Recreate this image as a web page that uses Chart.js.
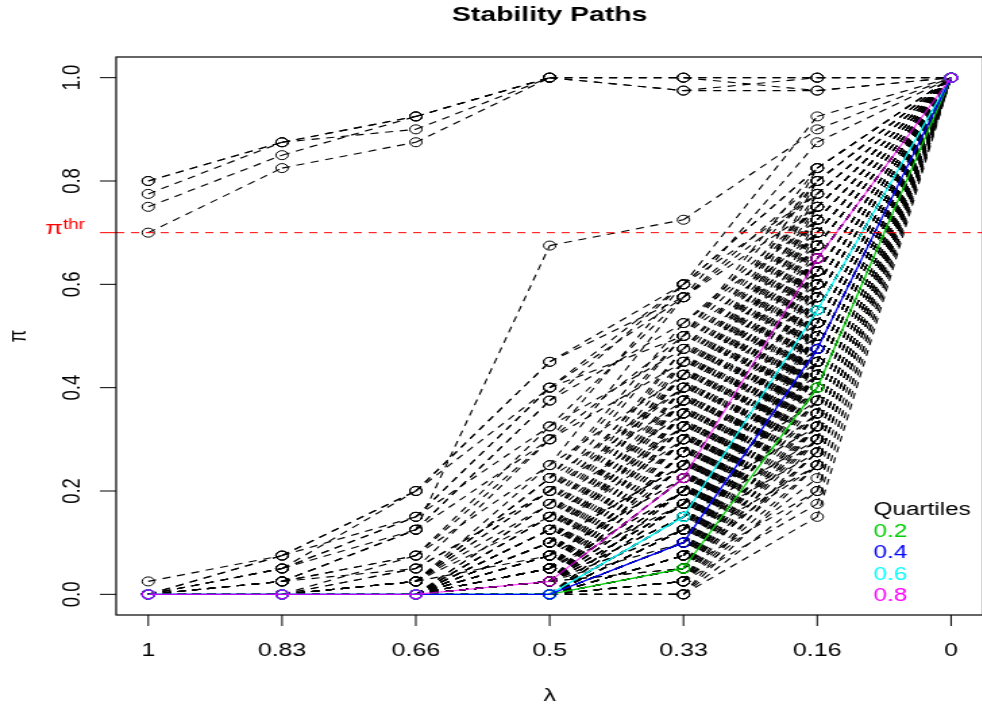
<!DOCTYPE html>
<html>
<head>
<meta charset="utf-8">
<title>Stability Paths</title>
<script src="https://cdn.jsdelivr.net/npm/chart.js@4.4.1/dist/chart.umd.min.js"></script>
<style>
    html, body { margin: 0; padding: 0; background: #ffffff; overflow: hidden; }
    #wrap { width: 982px; height: 708px; overflow: hidden; }
</style>
</head>
<body>
<div id="wrap">
    <!-- the original plot is stretched sideways, so draw narrow and widen with css -->
    <canvas id="stabilityChart" width="734" height="708" style="display:block;width:991px;height:708px;"></canvas>
</div>
<script>
// x positions (lambda), read left to right
const lambdaLabels = ['1', '0.83', '0.66', '0.5', '0.33', '0.16', '0'];
const yTickValues = [0, 0.2, 0.4, 0.6, 0.8, 1.0];
const piThreshold = 0.7;

// selection probability of each variable, one array per lambda (same variable order in all)
const piLambda100 = [
    0, 0, 0, 0, 0, 0, 0, 0, 0, 0,
    0, 0, 0, 0, 0, 0, 0, 0, 0, 0,
    0, 0, 0, 0, 0, 0, 0, 0, 0, 0,
    0, 0, 0, 0, 0, 0, 0, 0, 0, 0,
    0, 0, 0, 0, 0, 0, 0, 0, 0, 0,
    0, 0, 0, 0, 0, 0, 0, 0, 0, 0,
    0, 0, 0, 0, 0, 0, 0, 0, 0, 0,
    0, 0, 0, 0, 0, 0, 0, 0, 0.025, 0,
    0, 0, 0, 0, 0, 0, 0.8, 0.8, 0.775, 0.75,
    0.7,
    0, 0, 0, 0, 0, 0, 0, 0, 0, 0,
    0, 0, 0, 0, 0, 0, 0, 0, 0, 0,
    0, 0, 0, 0, 0, 0, 0, 0, 0, 0,
    0, 0, 0, 0, 0, 0, 0, 0, 0, 0,
    0, 0, 0, 0, 0, 0, 0, 0, 0, 0,
    0, 0, 0, 0, 0, 0, 0, 0, 0, 0,
    0, 0, 0, 0, 0, 0, 0, 0, 0, 0,
    0, 0, 0, 0, 0, 0, 0, 0, 0, 0,
    0, 0, 0
];
const piLambda083 = [
    0, 0, 0, 0, 0, 0, 0, 0, 0, 0,
    0, 0, 0, 0, 0, 0, 0, 0, 0, 0,
    0, 0, 0, 0, 0, 0, 0, 0, 0, 0,
    0, 0, 0, 0, 0, 0, 0, 0, 0, 0,
    0, 0, 0, 0, 0, 0, 0, 0, 0, 0,
    0, 0, 0, 0, 0, 0, 0, 0, 0, 0,
    0, 0, 0, 0, 0, 0, 0, 0, 0, 0,
    0, 0, 0, 0, 0.025, 0, 0.05, 0, 0.075, 0.025,
    0.05, 0.025, 0.075, 0.025, 0.075, 0.05, 0.875, 0.875, 0.875, 0.85,
    0.825,
    0, 0, 0, 0, 0, 0, 0, 0, 0, 0,
    0, 0, 0, 0, 0, 0, 0, 0, 0, 0,
    0, 0, 0, 0, 0, 0, 0, 0, 0, 0,
    0, 0, 0, 0, 0, 0, 0, 0, 0, 0,
    0, 0, 0, 0, 0, 0, 0, 0, 0, 0,
    0, 0, 0, 0, 0, 0, 0, 0, 0, 0,
    0, 0, 0, 0, 0, 0, 0, 0, 0, 0,
    0, 0, 0, 0, 0, 0, 0.025, 0, 0, 0.025,
    0, 0, 0.05
];
const piLambda066 = [
    0, 0, 0, 0, 0, 0, 0, 0, 0, 0,
    0, 0, 0, 0, 0, 0, 0, 0, 0, 0,
    0, 0, 0, 0, 0, 0, 0, 0, 0, 0,
    0, 0, 0, 0, 0, 0, 0, 0, 0, 0,
    0, 0, 0, 0, 0, 0, 0, 0, 0, 0.025,
    0, 0, 0, 0, 0, 0, 0, 0, 0, 0,
    0.025, 0, 0, 0, 0, 0, 0.05, 0, 0, 0,
    0.025, 0, 0.075, 0, 0.125, 0.05, 0.15, 0.025, 0.2, 0.125,
    0.2, 0.075, 0.15, 0.125, 0.2, 0.15, 0.925, 0.925, 0.9, 0.925,
    0.875,
    0, 0, 0, 0, 0, 0, 0, 0, 0, 0,
    0, 0, 0, 0, 0, 0, 0, 0, 0, 0,
    0, 0, 0, 0, 0, 0, 0, 0, 0, 0,
    0, 0, 0, 0, 0, 0, 0, 0, 0, 0,
    0, 0, 0, 0, 0, 0, 0, 0, 0, 0,
    0, 0, 0, 0, 0, 0, 0, 0, 0, 0,
    0, 0, 0, 0, 0, 0.025, 0, 0, 0, 0.025,
    0, 0, 0, 0.025, 0, 0, 0.05, 0, 0.025, 0.075,
    0, 0.025, 0.125
];
const piLambda050 = [
    0, 0, 0, 0, 0, 0, 0, 0, 0.025, 0,
    0, 0, 0, 0, 0.025, 0, 0, 0.025, 0, 0,
    0.025, 0, 0.05, 0, 0, 0.025, 0, 0, 0.025, 0,
    0, 0.025, 0, 0, 0.075, 0, 0, 0.025, 0, 0.05,
    0, 0.025, 0, 0.1, 0, 0.025, 0, 0.025, 0, 0.075,
    0.025, 0, 0.05, 0.025, 0.025, 0.125, 0, 0.025, 0.1, 0,
    0.15, 0.025, 0.05, 0.175, 0.025, 0.075, 0.2, 0.025, 0.125, 0.05,
    0.225, 0.1, 0.25, 0.15, 0.3, 0.2, 0.325, 0.175, 0.4, 0.375,
    0.45, 0.3, 0.4, 0.675, 0.45, 0.4, 1, 1, 1, 1,
    1,
    0, 0, 0, 0.025, 0, 0, 0.025, 0, 0, 0.025,
    0, 0, 0.025, 0, 0, 0.025, 0, 0, 0.025, 0,
    0, 0.025, 0, 0, 0.025, 0.05, 0, 0, 0.025, 0.025,
    0, 0, 0.025, 0.05, 0, 0, 0.025, 0.075, 0, 0,
    0.025, 0.05, 0, 0.025, 0.025, 0.1, 0, 0.025, 0.05, 0.075,
    0, 0.025, 0.05, 0.125, 0, 0.025, 0.075, 0.1, 0.025, 0.05,
    0.1, 0.15, 0.025, 0.075, 0.125, 0.2, 0.05, 0.1, 0.15, 0.225,
    0.05, 0.125, 0.175, 0.25, 0.075, 0.15, 0.3, 0.1, 0.2, 0.325,
    0.125, 0.225, 0.375
];
const piLambda033 = [
    0, 0.025, 0, 0.05, 0.025, 0, 0.075, 0.025, 0.05, 0.1,
    0.05, 0.025, 0.075, 0.125, 0.05, 0.1, 0.075, 0.15, 0.075, 0.1,
    0.125, 0.05, 0.175, 0.1, 0.125, 0.1, 0.15, 0.075, 0.2, 0.125,
    0.1, 0.15, 0.125, 0.175, 0.225, 0.075, 0.125, 0.15, 0.1, 0.2,
    0.15, 0.175, 0.125, 0.25, 0.15, 0.2, 0.1, 0.175, 0.15, 0.225,
    0.175, 0.125, 0.2, 0.275, 0.2, 0.3, 0.175, 0.225, 0.25, 0.2,
    0.325, 0.225, 0.275, 0.35, 0.25, 0.3, 0.375, 0.25, 0.325, 0.275,
    0.4, 0.35, 0.425, 0.375, 0.45, 0.4, 0.475, 0.425, 0.5, 0.525,
    0.575, 0.5, 0.6, 0.725, 0.6, 0.575, 1, 1, 0.975, 1,
    0.975,
    0.025, 0.1, 0.05, 0.125, 0, 0.075, 0.15, 0.05, 0.1, 0.175,
    0.025, 0.075, 0.15, 0.05, 0.125, 0.2, 0.025, 0.1, 0.175, 0.05,
    0.15, 0.225, 0.025, 0.1, 0.175, 0.25, 0.05, 0.125, 0.2, 0.275,
    0.075, 0.15, 0.225, 0.3, 0.05, 0.175, 0.25, 0.325, 0.1, 0.2,
    0.275, 0.35, 0.125, 0.225, 0.3, 0.375, 0.15, 0.25, 0.325, 0.4,
    0.175, 0.275, 0.35, 0.425, 0.2, 0.3, 0.375, 0.45, 0.225, 0.325,
    0.4, 0.475, 0.25, 0.35, 0.425, 0.5, 0.275, 0.375, 0.45, 0.525,
    0.3, 0.4, 0.475, 0.575, 0.325, 0.425, 0.6, 0.35, 0.45, 0.575,
    0.375, 0.5, 0.6
];
const piLambda016 = [
    0.15, 0.175, 0.2, 0.2, 0.225, 0.25, 0.25, 0.275, 0.275, 0.3,
    0.3, 0.325, 0.325, 0.35, 0.35, 0.375, 0.4, 0.4, 0.425, 0.425,
    0.425, 0.425, 0.425, 0.425, 0.45, 0.45, 0.45, 0.45, 0.45, 0.45,
    0.475, 0.475, 0.475, 0.475, 0.475, 0.475, 0.5, 0.5, 0.5, 0.5,
    0.5, 0.5, 0.525, 0.525, 0.525, 0.525, 0.525, 0.525, 0.55, 0.55,
    0.55, 0.55, 0.55, 0.55, 0.575, 0.575, 0.575, 0.575, 0.6, 0.6,
    0.6, 0.6, 0.625, 0.625, 0.625, 0.625, 0.65, 0.65, 0.65, 0.65,
    0.65, 0.65, 0.675, 0.675, 0.7, 0.7, 0.725, 0.725, 0.75, 0.75,
    0.775, 0.8, 0.825, 0.9, 0.925, 0.875, 1, 0.975, 1, 1,
    0.975,
    0.25, 0.25, 0.275, 0.275, 0.3, 0.3, 0.3, 0.325, 0.325, 0.325,
    0.35, 0.35, 0.35, 0.375, 0.375, 0.375, 0.4, 0.4, 0.4, 0.425,
    0.425, 0.425, 0.45, 0.45, 0.45, 0.45, 0.475, 0.475, 0.475, 0.475,
    0.5, 0.5, 0.5, 0.5, 0.525, 0.525, 0.525, 0.525, 0.55, 0.55,
    0.55, 0.55, 0.575, 0.575, 0.575, 0.575, 0.6, 0.6, 0.6, 0.6,
    0.625, 0.625, 0.625, 0.625, 0.65, 0.65, 0.65, 0.65, 0.675, 0.675,
    0.675, 0.675, 0.7, 0.7, 0.7, 0.7, 0.725, 0.725, 0.725, 0.725,
    0.75, 0.75, 0.75, 0.75, 0.775, 0.775, 0.775, 0.8, 0.8, 0.8,
    0.825, 0.825, 0.825
];
const piLambda000 = [
    1, 1, 1, 1, 1, 1, 1, 1, 1, 1,
    1, 1, 1, 1, 1, 1, 1, 1, 1, 1,
    1, 1, 1, 1, 1, 1, 1, 1, 1, 1,
    1, 1, 1, 1, 1, 1, 1, 1, 1, 1,
    1, 1, 1, 1, 1, 1, 1, 1, 1, 1,
    1, 1, 1, 1, 1, 1, 1, 1, 1, 1,
    1, 1, 1, 1, 1, 1, 1, 1, 1, 1,
    1, 1, 1, 1, 1, 1, 1, 1, 1, 1,
    1, 1, 1, 1, 1, 1, 1, 1, 1, 1,
    1,
    1, 1, 1, 1, 1, 1, 1, 1, 1, 1,
    1, 1, 1, 1, 1, 1, 1, 1, 1, 1,
    1, 1, 1, 1, 1, 1, 1, 1, 1, 1,
    1, 1, 1, 1, 1, 1, 1, 1, 1, 1,
    1, 1, 1, 1, 1, 1, 1, 1, 1, 1,
    1, 1, 1, 1, 1, 1, 1, 1, 1, 1,
    1, 1, 1, 1, 1, 1, 1, 1, 1, 1,
    1, 1, 1, 1, 1, 1, 1, 1, 1, 1,
    1, 1, 1
];

// quantiles of pi across variables at each lambda
const quartile20 = [0, 0, 0, 0, 0.05, 0.4, 1];
const quartile40 = [0, 0, 0, 0, 0.1, 0.475, 1];
const quartile60 = [0, 0, 0, 0, 0.15, 0.55, 1];
const quartile80 = [0, 0, 0, 0.025, 0.225, 0.65, 1];
const quartileNames = ['0.2', '0.4', '0.6', '0.8'];

const FONT = "'Liberation Sans', Arial, Helvetica, sans-serif";
const quartileColors = ['#00cd00', '#0000ff', '#00ffff', '#ff00ff'];
const quartileStroke = ['#00cd00', '#0000ff', '#00ffff', 'rgba(255, 0, 255, 0.72)'];
const quartileOrder = [3, 1, 2, 0];   // magenta last, blue under it

const piColumns = [piLambda100, piLambda083, piLambda066, piLambda050, piLambda033, piLambda016, piLambda000];

/**
 * Turn one row of values into {x, y} points on the lambda index axis
 */
function toPoints(values) {
    return values.map((v, i) => ({ x: i, y: v }));
}

const datasets = [];

// coloured quantile paths go on top (lower order is drawn later)
[quartile20, quartile40, quartile60, quartile80].forEach((q, k) => {
    datasets.push({
        label: quartileNames[k],
        data: toPoints(q),
        borderColor: quartileStroke[k],
        borderWidth: 1.3,
        pointRadius: 4.5,
        pointBorderWidth: 1.3,
        pointBorderColor: quartileStroke[k],
        pointBackgroundColor: 'rgba(0,0,0,0)',
        order: quartileOrder[k]
    });
});

for (let v = 0; v < piLambda000.length; v++) {
    datasets.push({
        label: 'var' + (v + 1),
        data: toPoints(piColumns.map(col => col[v])),
        borderColor: '#000000',
        borderWidth: 1.15,
        borderDash: [6, 5],
        // R draws each segment on its own, so the dash pattern restarts at every point;
        // a tiny different offset per segment makes Chart.js stroke them separately too
        segment: {
            borderDashOffset: ctx => ctx.p0DataIndex * 0.0001
        },
        pointRadius: 4.5,
        pointBorderWidth: 1,
        pointBorderColor: '#000000',
        pointBackgroundColor: 'rgba(0,0,0,0)',
        order: 10
    });
}

// R style frame, ticks, labels, threshold and the text legend
const rStylePlot = {
    id: 'rStylePlot',
    afterDatasetsDraw(chart) {
        const { ctx, chartArea, scales: { y } } = chart;
        const yp = y.getPixelForValue(piThreshold);
        ctx.save();
        ctx.strokeStyle = '#ff0000';
        ctx.lineWidth = 1;
        ctx.setLineDash([6, 5]);
        ctx.beginPath();
        ctx.moveTo(chartArea.left, yp);
        ctx.lineTo(chartArea.right, yp);
        ctx.stroke();
        ctx.setLineDash([]);
        ctx.beginPath();
        ctx.moveTo(chartArea.left - 12, yp);
        ctx.lineTo(chartArea.left, yp);
        ctx.stroke();
        ctx.restore();
    },
    afterDraw(chart) {
        const { ctx, chartArea, scales: { x, y } } = chart;
        const left = chartArea.left, right = chartArea.right;
        const top = chartArea.top, bottom = chartArea.bottom;
        ctx.save();

        // frame
        ctx.strokeStyle = '#000000';
        ctx.lineWidth = 1.2;
        ctx.strokeRect(left, top, right - left, bottom - top);

        // x axis
        ctx.lineWidth = 1;
        ctx.fillStyle = '#000000';
        ctx.font = '18.5px ' + FONT;
        ctx.textAlign = 'center';
        ctx.textBaseline = 'alphabetic';
        lambdaLabels.forEach((lab, i) => {
            const xp = x.getPixelForValue(i);
            ctx.beginPath();
            ctx.moveTo(xp, bottom);
            ctx.lineTo(xp, bottom + 11);
            ctx.stroke();
            ctx.fillText(lab, xp, 656);
        });
        ctx.fillText('\u03bb', (left + right) / 2, 701);

        // y axis, labels turned like R's default
        yTickValues.forEach(v => {
            const yp = y.getPixelForValue(v);
            ctx.beginPath();
            ctx.moveTo(left - 12, yp);
            ctx.lineTo(left, yp);
            ctx.stroke();
            ctx.save();
            ctx.translate(53.5, yp);
            ctx.rotate(-Math.PI / 2);
            ctx.textBaseline = 'middle';
            ctx.fillText(v.toFixed(1), 0, 0);
            ctx.restore();
        });
        ctx.save();
        ctx.translate(14, (top + bottom) / 2);
        ctx.rotate(-Math.PI / 2);
        ctx.textBaseline = 'middle';
        ctx.fillText('\u03c0', 0, 0);
        ctx.restore();

        // threshold label: pi with superscript thr
        const yt = y.getPixelForValue(piThreshold);
        ctx.fillStyle = '#ff0000';
        ctx.textAlign = 'left';
        ctx.font = '14px ' + FONT;
        const supW = ctx.measureText('thr').width;
        ctx.font = '19px ' + FONT;
        const piW = ctx.measureText('\u03c0').width;
        const xStart = 63 - supW - piW;
        ctx.fillText('\u03c0', xStart, yt + 1);
        ctx.font = '14px ' + FONT;
        ctx.fillText('thr', xStart + piW, yt - 4);

        // legend
        ctx.font = '18px ' + FONT;
        ctx.fillStyle = '#000000';
        ctx.fillText('Quartiles', 647, 515);
        quartileNames.forEach((name, k) => {
            ctx.fillStyle = quartileColors[k];
            ctx.fillText(name, 647, 536.5 + k * 21.5);
        });

        ctx.restore();
    }
};

new Chart(document.getElementById('stabilityChart'), {
    type: 'line',
    data: { datasets: datasets },
    options: {
        responsive: false,
        devicePixelRatio: 1,
        animation: false,
        layout: {
            padding: { left: 86, right: 3.6, top: 0, bottom: 93 }
        },
        elements: {
            line: { tension: 0 }
        },
        plugins: {
            legend: { display: false },
            tooltip: { enabled: false },
            title: {
                display: true,
                text: 'Stability Paths',
                fullSize: false,
                color: '#000000',
                font: { family: FONT, size: 21, weight: 'bold', lineHeight: 1.2 },
                padding: { top: 3, bottom: 28.8 }
            }
        },
        scales: {
            x: { type: 'linear', display: false, min: -0.24, max: 6.24 },
            y: { type: 'linear', display: false, min: -0.04, max: 1.04 }
        }
    },
    plugins: [rStylePlot]
});
</script>
</body>
</html>
